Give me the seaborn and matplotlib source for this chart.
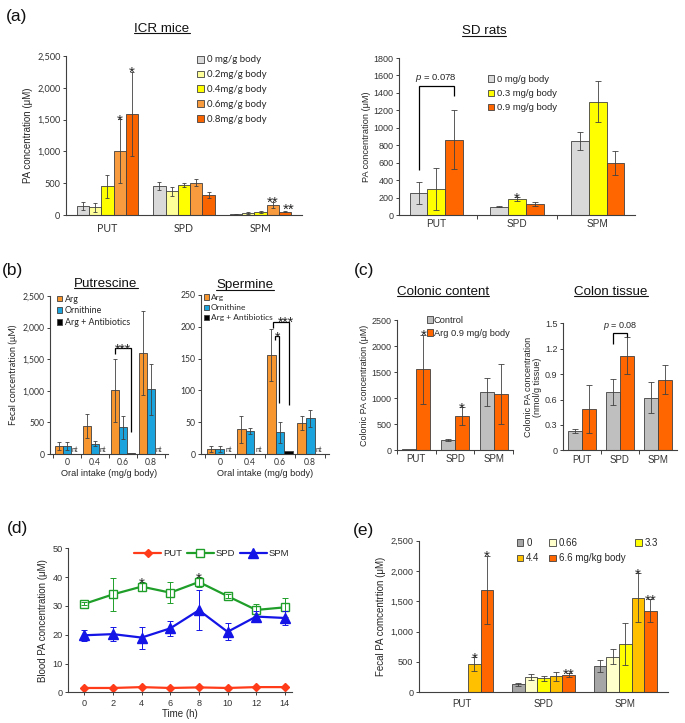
import numpy as np
import pandas as pd
import matplotlib
matplotlib.use('Agg')
import matplotlib.pyplot as plt
from matplotlib.lines import Line2D
from matplotlib.ticker import FuncFormatter
import seaborn as sns

sns.set_theme(style='ticks')
plt.rcParams['font.family'] = ['Liberation Sans', 'DejaVu Sans']
plt.rcParams['mathtext.fontset'] = 'custom'
plt.rcParams['mathtext.rm'] = 'Liberation Sans'
plt.rcParams['mathtext.it'] = 'Liberation Sans:italic'

W, H = 685, 723
CAL = ['Lato', 'DejaVu Sans']
ARI = ['Liberation Sans', 'DejaVu Sans']

# ---------------- DATA ----------------
# (a) ICR mice
icr_cats = ['PUT', 'SPD', 'SPM']
icr_labels = ['0 mg/g body', '0.2mg/g body', '0.4mg/g body', '0.6mg/g body', '0.8mg/g body']
icr_0 = [145, 460, 10]
icr_02 = [120, 370, 35]
icr_04 = [455, 470, 50]
icr_06 = [1005, 510, 158]
icr_08 = [1590, 315, 55]
icr_0_err = [65, 60, 5]
icr_02_err = [65, 75, 12]
icr_04_err = [180, 30, 12]
icr_06_err = [500, 60, 42]
icr_08_err = [665, 50, 15]

# (a) SD rats
sd_cats = ['PUT', 'SPD', 'SPM']
sd_labels = ['0 mg/g body', '0.3 mg/g body', '0.9 mg/g body']
sd_0 = [250, 95, 847]
sd_03 = [295, 184, 1298]
sd_09 = [862, 123, 598]
sd_0_err = [127, 5, 103]
sd_03_err = [242, 25, 237]
sd_09_err = [337, 25, 138]

# (b) fecal concentration
oral_cats = ['0', '0.4', '0.6', '0.8']
b_labels = ['Arg', 'Ornithine', 'Arg + Antibiotics']
putr_arg = [130, 445, 1005, 1600]
putr_orn = [130, 165, 420, 1025]
putr_abx = [None, None, 15, None]
putr_arg_err = [65, 185, 500, 660]
putr_orn_err = [65, 45, 180, 400]
putr_abx_err = [None, None, None, None]
sperm_arg = [8, 39, 155, 49]
sperm_orn = [8, 36, 34, 56]
sperm_abx = [None, None, 5, None]
sperm_arg_err = [5, 21, 41, 11]
sperm_orn_err = [5, 5, 17, 13]
sperm_abx_err = [None, None, None, None]

# (c) colon
c_cats = ['PUT', 'SPD', 'SPM']
c_labels = ['Control', 'Arg 0.9 mg/g body']
content_ctrl = [20, 192, 1110]
content_arg = [1550, 655, 1077]
content_ctrl_err = [None, 25, 270]
content_arg_err = [670, 165, 575]
tissue_ctrl = [0.23, 0.687, 0.624]
tissue_arg = [0.487, 1.116, 0.832]
tissue_ctrl_err = [0.02, 0.155, 0.18]
tissue_arg_err = [0.28, 0.22, 0.17]

# (d) blood
times = [0, 2, 4, 6, 8, 10, 12, 14]
blood_put = [1.5, 1.5, 1.8, 1.5, 1.7, 1.5, 1.8, 1.8]
blood_spd = [30.7, 34.0, 36.7, 34.6, 38.3, 33.4, 28.6, 29.5]
blood_spm = [19.8, 20.2, 19.0, 22.2, 28.5, 21.0, 26.3, 25.8]
blood_put_err = [0.3, 0.3, 0.3, 0.3, 0.3, 0.3, 0.3, 0.3]
blood_spd_err = [0.5, 5.6, 1.5, 3.6, 1.8, 0.8, 2.0, 3.2]
blood_spm_err = [2.0, 2.5, 3.8, 2.6, 7.0, 3.0, 1.8, 2.5]

# (e) fecal PA
e_cats = ['PUT', 'SPD', 'SPM']
e_labels = ['0', '0.66', '3.3', '4.4', '6.6 mg/kg body']
fe_0 = [10, 132, 434]
fe_066 = [5, 257, 588]
fe_33 = [10, 231, 792]
fe_44 = [462, 264, 1562]
fe_66 = [1690, 285, 1342]
fe_0_err = [None, 20, 100]
fe_066_err = [None, 50, 120]
fe_33_err = [None, 45, 350]
fe_44_err = [115, 75, 400]
fe_66_err = [565, 30, 190]

# ---------------- HELPERS ----------------
fig = plt.figure(figsize=(W / 100, H / 100), dpi=100)
GREY = '#404040'


def add_ax(x0, x1, ytop, ybot):
    return fig.add_axes([x0 / W, 1 - ybot / H, (x1 - x0) / W, (ybot - ytop) / H])


def style(ax, fs=6.3, fam=ARI, boundary_ticks=False, ncat=3):
    sns.despine(ax=ax)
    for s in ['left', 'bottom']:
        ax.spines[s].set_linewidth(0.8)
        ax.spines[s].set_color(GREY)
    ax.tick_params(axis='both', labelsize=fs, width=0.7, length=2.5, pad=1.5,
                   colors=GREY, labelcolor='#333333')
    ax.tick_params(axis='x', length=0, pad=3)
    for lab in ax.get_xticklabels() + ax.get_yticklabels():
        lab.set_family(fam)
    if boundary_ticks:
        ax.set_xticks(np.arange(-0.5, ncat, 1.0), minor=True)
        ax.tick_params(axis='x', which='minor', length=3, width=0.7, colors=GREY)


def bars(ax, cats, labels, series, errs, colors, width, edge=GREY, lw=0.6, cap=2):
    rows = []
    for lab, vals in zip(labels, series):
        for c, v in zip(cats, vals):
            rows.append((c, lab, 0.0 if v is None else float(v)))
    df = pd.DataFrame(rows, columns=['cat', 'grp', 'val'])
    sns.barplot(data=df, x='cat', y='val', hue='grp', order=cats, hue_order=labels,
                palette=colors, width=width, saturation=1, edgecolor=edge, linewidth=lw,
                errorbar=None, ax=ax, legend=False)
    conts = list(ax.containers)
    pos = []
    handles = []
    for i, cont in enumerate(conts):
        row = []
        h = None
        for j, b in enumerate(cont):
            x = b.get_x() + b.get_width() / 2
            v = series[i][j]
            if v is None:
                b.set_visible(False)
            elif h is None:
                h = b
            e = errs[i][j]
            if e:
                ax.errorbar(x, v, yerr=e, fmt='none', ecolor=GREY, elinewidth=0.6,
                            capsize=cap, capthick=0.6)
            row.append((x, v if v is not None else 0, (v or 0) + (e or 0)))
        pos.append(row)
        handles.append(h)
    ax.set_xlabel('')
    ax.set_ylabel('')
    return handles, pos


def star(ax, x, y, s, fs=11, gap=0.6):
    ax.annotate(s, (x, y), xytext=(0, gap - 0.42 * fs), textcoords='offset points',
                ha='center', va='baseline', fontsize=fs, color='#222222')


def bracket(ax, x0, x1, top, b0, b1, lw=0.9):
    ax.plot([x0, x0, x1, x1], [b0, top, top, b1], color='black', lw=lw,
            solid_joinstyle='miter', solid_capstyle='butt')


def leg(ax, handles, labels, x, y, fs, fam=ARI, **kw):
    opts = dict(loc='upper left', bbox_to_anchor=(x / W, 1 - y / H),
                bbox_transform=fig.transFigure, frameon=False,
                handlelength=0.7, handleheight=0.7, handletextpad=0.3,
                borderpad=0, borderaxespad=0, prop={'family': fam, 'size': fs})
    opts.update(kw)
    return ax.legend(handles, labels, **opts)


comma = FuncFormatter(lambda v, p: f'{int(round(v)):,}')
titles = []


def utitle(x, y, s, fs=9.6):
    t = fig.text(x / W, 1 - y / H, s, ha='center', va='center', fontsize=fs, color='#111111')
    titles.append(t)


# ---------------- (a) ICR ----------------
axA1 = add_ax(66, 302, 56, 215)
hs, pos = bars(axA1, icr_cats, icr_labels, [icr_0, icr_02, icr_04, icr_06, icr_08],
               [icr_0_err, icr_02_err, icr_04_err, icr_06_err, icr_08_err],
               ['#d9d9d9', '#ffff99', '#ffff00', '#f89a3e', '#fa6400'], 0.8, cap=1.6)
axA1.set_ylim(0, 2500)
axA1.set_yticks(np.arange(0, 2501, 500))
axA1.yaxis.set_major_formatter(comma)
axA1.set_ylabel('PA concentration (μM)', fontsize=7, labelpad=3)
style(axA1, fs=6.6, fam=CAL)
axA1.tick_params(axis='x', labelsize=7.6, pad=6)
star(axA1, pos[3][0][0], pos[3][0][2], '*')
star(axA1, pos[4][0][0], pos[4][0][2], '*')
star(axA1, pos[3][2][0], pos[3][2][2] + 20, '**')
star(axA1, pos[4][2][0] + 0.04, pos[4][2][2] + 30, '**')
leg(axA1, hs, icr_labels, 197, 55.5, 7, fam=CAL, labelspacing=0.6)
utitle(162, 29, 'ICR mice')

# ---------------- (a) SD ----------------
axA2 = add_ax(399, 635, 58, 215)
hs, pos = bars(axA2, sd_cats, sd_labels, [sd_0, sd_03, sd_09],
               [sd_0_err, sd_03_err, sd_09_err],
               ['#d9d9d9', '#ffff00', '#ff6600'], 0.66, cap=2.2)
axA2.set_ylim(0, 1800)
axA2.set_yticks(np.arange(0, 1801, 200))
axA2.set_ylabel('PA concentration (μM)', fontsize=6.6, labelpad=2)
style(axA2, fs=6.5, boundary_ticks=True)
axA2.tick_params(axis='x', labelsize=7.2)
star(axA2, pos[1][1][0], pos[1][1][2], '*')
bracket(axA2, pos[0][0][0], pos[2][0][0], 1475, 520, 1360)
axA2.text((pos[0][0][0] + pos[2][0][0]) / 2, 1500, r'$\it{p}$ = 0.078', ha='center',
          va='bottom', fontsize=6.8)
leg(axA2, hs, sd_labels, 487.5, 75, 6.8, labelspacing=0.55)
utitle(484, 31.5, 'SD rats')

# ---------------- (b) Putrescine ----------------
b_colors = ['#f7962f', '#1aa3dc', '#000000']
axB1 = add_ax(50, 168, 296, 454)
hs, pos = bars(axB1, oral_cats, b_labels, [putr_arg, putr_orn, putr_abx],
               [putr_arg_err, putr_orn_err, putr_abx_err], b_colors, 0.86, cap=1.5)
axB1.set_ylim(0, 2500)
axB1.set_yticks(np.arange(0, 2501, 500))
axB1.yaxis.set_major_formatter(comma)
axB1.set_ylabel('Fecal concentration (μM)', fontsize=6.6, labelpad=3, family=CAL)
axB1.set_xlabel('Oral intake (mg/g body)', fontsize=6.6, labelpad=1)
style(axB1, fs=6.2, fam=CAL, boundary_ticks=True, ncat=4)
for j, v in enumerate(putr_abx):
    if v is None:
        axB1.text(pos[2][j][0], 8, 'nt', ha='center', va='bottom', fontsize=5, family=CAL)
bracket(axB1, pos[0][2][0], pos[2][2][0], 1670, 1580, 350)
star(axB1, (pos[0][2][0] + pos[2][2][0]) / 2, 1670, '***', fs=10, gap=0.3)
leg(axB1, hs, b_labels, 57, 294.5, 6.4, fam=CAL, labelspacing=0.3, handlelength=0.6,
    handleheight=0.6, handletextpad=0.25)
utitle(106, 284, 'Putrescine')

# ---------------- (b) Spermine ----------------
axB2 = add_ax(201, 329, 295, 454)
hs, pos = bars(axB2, oral_cats, b_labels, [sperm_arg, sperm_orn, sperm_abx],
               [sperm_arg_err, sperm_orn_err, sperm_abx_err], b_colors, 0.86, cap=1.5)
axB2.set_ylim(0, 250)
axB2.set_yticks(np.arange(0, 251, 50))
axB2.set_xlabel('Oral intake (mg/g body)', fontsize=6.6, labelpad=1)
style(axB2, fs=6.2, fam=CAL, boundary_ticks=True, ncat=4)
for j, v in enumerate(sperm_abx):
    if v is None:
        axB2.text(pos[2][j][0], 0.8, 'nt', ha='center', va='bottom', fontsize=5, family=CAL)
xa = pos[0][2][0]
bracket(axB2, xa + 0.04, pos[2][2][0], 208, 198, 77)
bracket(axB2, xa + 0.12, pos[1][2][0] - 0.02, 185, 180, 80)
star(axB2, (xa + pos[2][2][0]) / 2 + 0.2, 208, '***', fs=10, gap=0.3)
star(axB2, (xa + pos[1][2][0]) / 2 + 0.05, 185, '*', fs=10, gap=0.3)
leg(axB2, hs, b_labels, 204, 294, 6.0, fam=CAL, labelspacing=0.38, handlelength=0.6,
    handleheight=0.6, handletextpad=0.25)
utitle(245, 285.5, 'Spermine')

# ---------------- (c) Colonic content ----------------
c_colors = ['#bfbfbf', '#ff6600']
axC1 = add_ax(397, 513, 320, 450)
hs, pos = bars(axC1, c_cats, c_labels, [content_ctrl, content_arg],
               [content_ctrl_err, content_arg_err], c_colors, 0.72, cap=2)
axC1.set_ylim(0, 2500)
axC1.set_yticks(np.arange(0, 2501, 500))
axC1.set_ylabel('Colonic PA concentration (μM)', fontsize=6.5, labelpad=2)
style(axC1, fs=6.5, boundary_ticks=True)
axC1.tick_params(axis='x', labelsize=7)
star(axC1, pos[1][0][0], pos[1][0][2], '*')
star(axC1, pos[1][1][0], pos[1][1][2], '*')
leg(axC1, hs, c_labels, 426.5, 316, 6.7, labelspacing=0.42, handletextpad=0.1)
utitle(443, 292, 'Colonic content')

# ---------------- (c) Colon tissue ----------------
axC2 = add_ax(563, 677, 323.3, 450.4)
hs, pos = bars(axC2, c_cats, c_labels, [tissue_ctrl, tissue_arg],
               [tissue_ctrl_err, tissue_arg_err], c_colors, 0.72, cap=2)
axC2.set_ylim(0, 1.5)
axC2.set_yticks(np.arange(0, 1.51, 0.3))
axC2.yaxis.set_major_formatter(FuncFormatter(lambda v, p: '0' if abs(v) < 1e-9 else f'{v:.1f}'))
axC2.set_ylabel('Colonic PA concentration\n(nmol/g tissue)', fontsize=6.5, labelpad=2,
                linespacing=1.0)
style(axC2, fs=6.5, boundary_ticks=True)
axC2.tick_params(axis='x', labelsize=7)
bracket(axC2, pos[0][1][0], pos[1][1][0], 1.385, 1.26, 1.34)
axC2.text((pos[0][1][0] + pos[1][1][0]) / 2 + 0.02, 1.40, r'$\it{p}$ = 0.08', ha='center',
          va='bottom', fontsize=6.5)
utitle(611, 292, 'Colon tissue')

# ---------------- (d) Blood ----------------
axD = add_ax(68, 292, 548.3, 692.3)
specs = [('PUT', blood_put, blood_put_err, '#ff3b1a', 'D', '#ff3b1a', 4.4),
         ('SPD', blood_spd, blood_spd_err, '#1f9e2a', 's', 'white', 5.2),
         ('SPM', blood_spm, blood_spm_err, '#1414e6', '^', '#1414e6', 6.8)]
for name, vals, errs, col, mk, mfc, ms in specs:
    d = pd.DataFrame({'time': times, 'val': vals})
    sns.lineplot(data=d, x='time', y='val', ax=axD, color=col, marker=mk, markersize=ms,
                 markerfacecolor=mfc, markeredgecolor=col, markeredgewidth=1.0,
                 linewidth=1.6, label=name, errorbar=None)
    axD.errorbar(times, vals, yerr=errs, fmt='none', ecolor=col, elinewidth=0.7,
                 capsize=2.2, capthick=0.7)
axD.set_xlim(-1.14, 14.5)
axD.set_xticks(times)
axD.set_ylim(0, 50)
axD.set_yticks(np.arange(0, 51, 10))
axD.set_xlabel('Time (h)', fontsize=7, labelpad=1)
axD.set_ylabel('Blood PA concentration (μM)', fontsize=7, labelpad=3)
style(axD, fs=6.6)
axD.tick_params(axis='x', length=2.5, pad=2)
star(axD, 4, blood_spd[2] + blood_spd_err[2], '*')
star(axD, 8, blood_spd[4] + blood_spd_err[4], '*')
hd = [l for l in axD.get_lines() if l.get_label() in ('PUT', 'SPD', 'SPM')]
leg(axD, hd, ['PUT', 'SPD', 'SPM'], 134, 549, 6.8, ncol=3, handlelength=2.9,
    handleheight=0.7, handletextpad=0.2, columnspacing=0.45)

# ---------------- (e) Fecal PA ----------------
axE = add_ax(419, 668, 540.7, 692.3)
hs, pos = bars(axE, e_cats, e_labels, [fe_0, fe_066, fe_33, fe_44, fe_66],
               [fe_0_err, fe_066_err, fe_33_err, fe_44_err, fe_66_err],
               ['#a6a6a6', '#ffffcc', '#ffff00', '#ffc000', '#ff6600'], 0.77, cap=2)
axE.set_ylim(0, 2500)
axE.set_yticks(np.arange(0, 2501, 500))
axE.yaxis.set_major_formatter(comma)
axE.set_ylabel('Fecal PA comcentrtion (μM)', fontsize=7, labelpad=3)
style(axE, fs=6.6)
axE.tick_params(axis='x', labelsize=7, pad=5)
star(axE, pos[3][0][0], pos[3][0][2], '*')
star(axE, pos[4][0][0], pos[4][0][2], '*')
star(axE, pos[4][1][0], pos[4][1][2], '**')
star(axE, pos[3][2][0], pos[3][2][2], '*')
star(axE, pos[4][2][0], pos[4][2][2], '**')
order = [0, 3, 1, 4, 2]
leg(axE, [hs[i] for i in order], [e_labels[i] for i in order], 516.5, 538, 7,
    ncol=3, labelspacing=0.55, columnspacing=1.0)

# ---------------- panel labels ----------------
for lab, x, y in [('(a)', 17, 16), ('(b)', 12, 271), ('(c)', 364, 271),
                  ('(d)', 17, 528), ('(e)', 364, 530)]:
    fig.text(x / W, 1 - y / H, lab, fontsize=12.5, ha='center', va='center', color='#111111')

# underline titles
fig.canvas.draw()
r = fig.canvas.get_renderer()
for t in titles:
    bb = t.get_window_extent(r)
    y = bb.y0 + 1.8
    p0 = fig.transFigure.inverted().transform((bb.x0, y))
    p1 = fig.transFigure.inverted().transform((bb.x1, y))
    fig.add_artist(Line2D([p0[0], p1[0]], [p0[1], p1[1]], transform=fig.transFigure,
                          color='#111111', lw=0.8))

fig.savefig('out.png', dpi=100)
